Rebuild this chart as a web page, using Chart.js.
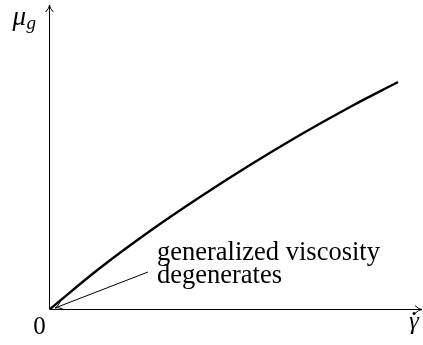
<!DOCTYPE html>
<html>
<head>
<meta charset="utf-8">
<script src="https://cdn.jsdelivr.net/npm/chart.js@4"></script>
<style>
  html, body { margin: 0; padding: 0; background: #fff; }
  #wrap { width: 423px; height: 345px; position: relative; }
</style>
</head>
<body>
<div id="wrap"><canvas id="chart"></canvas></div>
<script>
// Shear rate (x) and generalized viscosity (y).
var shearRate = [0, 50, 100, 150, 200, 250, 300, 348];
var viscosity = [0, 41, 78, 112, 144, 174, 202, 227];
// Axis extents (the arrows end here).
var xMax = 372;
var yMax = 304;
// Annotation text lines.
var noteLines = ["generalized viscosity", "degenerates"];

var SERIF = '"Liberation Serif", "Times New Roman", serif';

function buildPoints(xs, ys) {
    // Pair up the x and y arrays for a scatter dataset.
    var pts = [];
    for (var i = 0; i < xs.length; ++i) {
        pts.push({ x: xs[i], y: ys[i] });
    }
    return pts;
}

function arrowHead(ctx, x, y, angle) {
    // Open LaTeX-like arrow head with its tip at (x, y).
    var len = 8, spread = 0.5;
    ctx.beginPath();
    ctx.moveTo(x - len * Math.cos(angle - spread), y - len * Math.sin(angle - spread));
    ctx.quadraticCurveTo(x - 3 * Math.cos(angle), y - 3 * Math.sin(angle), x, y);
    ctx.quadraticCurveTo(x - 3 * Math.cos(angle), y - 3 * Math.sin(angle),
        x - len * Math.cos(angle + spread), y - len * Math.sin(angle + spread));
    ctx.stroke();
}

var axesPlugin = {
    id: 'axesPlugin',
    afterDraw: function (chart) {
        var ctx = chart.ctx;
        var xs = chart.scales.x, ys = chart.scales.y;
        var x0 = Math.round(xs.getPixelForValue(0)) - 0.5;
        var y0 = Math.round(ys.getPixelForValue(0)) + 0.5;
        var xEnd = xs.getPixelForValue(xMax);
        var yEnd = ys.getPixelForValue(yMax);

        ctx.save();
        ctx.strokeStyle = '#000';
        ctx.fillStyle = '#000';
        ctx.lineWidth = 1;

        // axes
        ctx.beginPath();
        ctx.moveTo(x0, y0);
        ctx.lineTo(xEnd, y0);
        ctx.moveTo(x0, y0);
        ctx.lineTo(x0, yEnd);
        ctx.stroke();
        arrowHead(ctx, xEnd, y0, 0);
        arrowHead(ctx, x0, yEnd, -Math.PI / 2);

        // annotation arrow pointing at the origin
        var ax = xs.getPixelForValue(98), ay = ys.getPixelForValue(37);
        var tx = xs.getPixelForValue(5), ty = ys.getPixelForValue(1);
        ctx.beginPath();
        ctx.moveTo(ax, ay);
        ctx.lineTo(tx, ty);
        ctx.stroke();
        arrowHead(ctx, tx, ty, Math.atan2(ty - ay, tx - ax));

        // annotation text
        ctx.font = '26.5px ' + SERIF;
        ctx.textAlign = 'left';
        ctx.textBaseline = 'alphabetic';
        var nx = xs.getPixelForValue(107);
        ctx.fillText(noteLines[0], nx, ys.getPixelForValue(49));
        ctx.fillText(noteLines[1], nx, ys.getPixelForValue(26));

        // origin label
        ctx.font = '25px ' + SERIF;
        ctx.textAlign = 'center';
        ctx.fillText('0', x0 - 10, y0 + 24);

        // y axis label: mu_g
        ctx.font = 'italic 27px ' + SERIF;
        ctx.textAlign = 'left';
        ctx.fillText('\u03bc', x0 - 37, 25);
        ctx.font = 'italic 19px ' + SERIF;
        ctx.fillText('g', x0 - 23, 29);

        // x axis label: gamma dot
        ctx.font = 'italic 25px ' + SERIF;
        ctx.fillText('\u03b3', xEnd - 13, y0 + 19);
        ctx.beginPath();
        ctx.arc(xEnd - 8, y0 + 4, 1.5, 0, Math.PI * 2);
        ctx.fill();
        ctx.restore();
    }
};

function drawChart() {
    new Chart(document.getElementById('chart'), {
        type: 'scatter',
        data: {
            datasets: [
                {
                    data: buildPoints(shearRate, viscosity),
                    showLine: true,
                    borderColor: '#000',
                    borderWidth: 2.4,
                    pointRadius: 0,
                    tension: 0.4,
                    fill: false
                }
            ]
        },
        options: {
            responsive: true,
            maintainAspectRatio: false,
            animation: false,
            devicePixelRatio: 1,
            layout: { padding: { left: 50, right: 1, top: 5, bottom: 36 } },
            plugins: {
                legend: { display: false },
                tooltip: { enabled: false }
            },
            scales: {
                x: { type: 'linear', min: 0, max: xMax, display: false },
                y: { type: 'linear', min: 0, max: yMax, display: false }
            }
        },
        plugins: [axesPlugin]
    });
}

// Make sure the serif faces are loaded before the canvas text is drawn.
if (document.fonts && document.fonts.load) {
    Promise.all([
        document.fonts.load('25px "Liberation Serif"'),
        document.fonts.load('italic 25px "Liberation Serif"')
    ]).then(drawChart, drawChart);
} else {
    drawChart();
}
</script>
</body>
</html>
